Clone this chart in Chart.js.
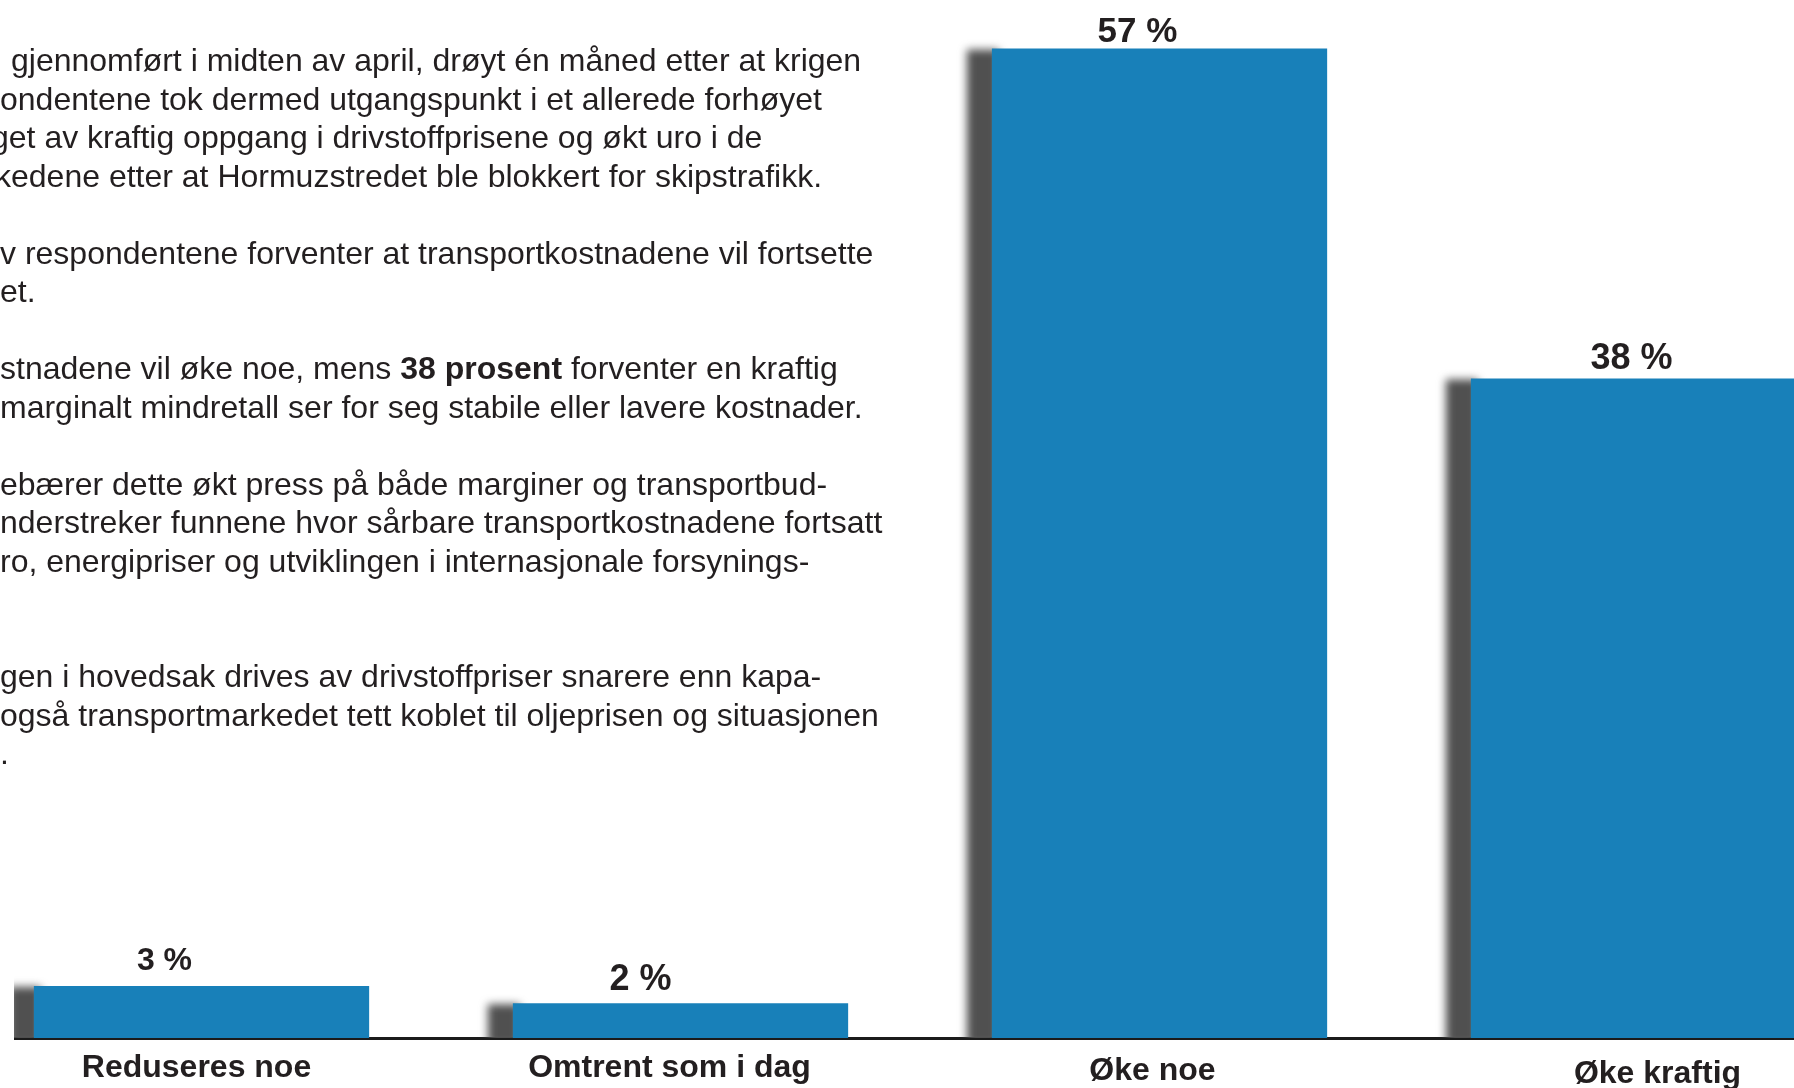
<!DOCTYPE html>
<html lang="no">
<head>
<meta charset="utf-8">
<title>Forventninger til transportkostnader</title>
<script src="https://cdn.jsdelivr.net/npm/chart.js@4.4.1/dist/chart.umd.min.js"></script>
<style>
  html, body { margin: 0; padding: 0; background: #fff; }
  body { width: 1794px; height: 1088px; position: relative; overflow: hidden; }

  .body-text {
    position: absolute;
    left: 0;
    top: 41px;
    width: 900px;
    font-family: "Liberation Sans", Arial, sans-serif;
    font-size: 32px;
    line-height: 38.5px;
    color: #231f20;
    white-space: nowrap;
    overflow: hidden;
    z-index: 2;
  }
  .body-text div { height: 38.5px; }

  .chart-clip { position: absolute; left: 14px; top: 0; width: 1780px; height: 1088px; overflow: hidden; }
  .chart-box { position: absolute; left: -52px; top: 0; width: 1916px; height: 1088px; }
</style>
</head>
<body>

<div class="body-text">
  <div style="padding-left:11px">gjennomført i midten av april, drøyt én måned etter at krigen</div>
  <div>ondentene tok dermed utgangspunkt i et allerede forhøyet</div>
  <div style="margin-left:-9px">get av kraftig oppgang i drivstoffprisene og økt uro i de</div>
  <div style="margin-left:-5px">kedene etter at Hormuzstredet ble blokkert for skipstrafikk.</div>
  <div></div>
  <div>v respondentene forventer at transportkostnadene vil fortsette</div>
  <div>et.</div>
  <div></div>
  <div>stnadene vil øke noe, mens <b>38 prosent</b> forventer en kraftig</div>
  <div>marginalt mindretall ser for seg stabile eller lavere kostnader.</div>
  <div></div>
  <div>ebærer dette økt press på både marginer og transportbud-</div>
  <div>nderstreker funnene hvor sårbare transportkostnadene fortsatt</div>
  <div>ro, energipriser og utviklingen i internasjonale forsynings-</div>
  <div></div>
  <div></div>
  <div>gen i hovedsak drives av drivstoffpriser snarere enn kapa-</div>
  <div>også transportmarkedet tett koblet til oljeprisen og situasjonen</div>
  <div>.</div>
</div>

<div class="chart-clip">
  <div class="chart-box">
    <canvas id="cost-chart"></canvas>
  </div>
</div>

<script>
// Survey answers: expected change in transport costs (share of respondents, %)
const categories = ['Reduseres noe', 'Omtrent som i dag', 'Øke noe', 'Øke kraftig'];
const shares = [3, 2, 57, 38];

const FONT = '"Liberation Sans", Arial, sans-serif';
const TEXT_COLOR = '#231f20';
const BAR_COLOR = '#1880b9';

// value label look, per bar
const labelSizes = [32, 36, 35, 36];
const labelShift = [-37, -40, -22, -7];
const labelGap = [16, 13, 7, 9];

// category names under the axis, nudged a little per bar
const nameShift = [-5, -11, -7, 19];
const nameBaseline = [39, 39, 42, 45];

// soft dark block to the left of every bar
const barShadow = {
  id: 'barShadow',
  beforeDatasetsDraw(chart) {
    const { ctx, chartArea } = chart;
    const bars = chart.getDatasetMeta(0).data;

    ctx.save();
    ctx.beginPath();
    ctx.rect(chartArea.left, 0, chartArea.right - chartArea.left, chartArea.bottom);
    ctx.clip();
    ctx.filter = 'blur(4px)';
    ctx.fillStyle = '#505050';
    bars.forEach(bar => {
      const { x, y, base, width } = bar.getProps(['x', 'y', 'base', 'width'], true);
      const left = x - width / 2;
      ctx.fillRect(left - 25, y + 1, 32, base - y + 6);
    });
    ctx.restore();
  }
};

// "57 %" style labels above the bars, category names below the axis
const barLabels = {
  id: 'barLabels',
  afterDatasetsDraw(chart) {
    const { ctx, chartArea } = chart;
    const xScale = chart.scales.x;
    const bars = chart.getDatasetMeta(0).data;

    ctx.save();
    ctx.fillStyle = TEXT_COLOR;
    ctx.textAlign = 'center';
    ctx.textBaseline = 'alphabetic';
    bars.forEach((bar, i) => {
      ctx.font = `bold ${labelSizes[i]}px ${FONT}`;
      ctx.fillText(`${shares[i]} %`, bar.x + labelShift[i], bar.y - labelGap[i]);
    });

    ctx.font = `bold 32px ${FONT}`;
    categories.forEach((name, i) => {
      ctx.fillText(name, xScale.getPixelForTick(i) + nameShift[i], chartArea.bottom + nameBaseline[i]);
    });
    ctx.restore();
  }
};

new Chart(document.getElementById('cost-chart'), {
  type: 'bar',
  data: {
    labels: categories,
    datasets: [{
      data: shares,
      backgroundColor: BAR_COLOR,
      borderWidth: 0,
      barPercentage: 0.7,
      categoryPercentage: 1
    }]
  },
  options: {
    responsive: true,
    maintainAspectRatio: false,
    animation: false,
    layout: { padding: { top: 0, bottom: 50, left: 0, right: 0 } },
    plugins: {
      legend: { display: false },
      tooltip: { enabled: false }
    },
    scales: {
      x: {
        grid: { display: false, drawTicks: false },
        border: { display: true, color: '#1b1b1b', width: 3 },
        ticks: { display: false }
      },
      y: {
        display: false,
        min: 0,
        max: 59.8
      }
    }
  },
  plugins: [barShadow, barLabels]
});
</script>
</body>
</html>
